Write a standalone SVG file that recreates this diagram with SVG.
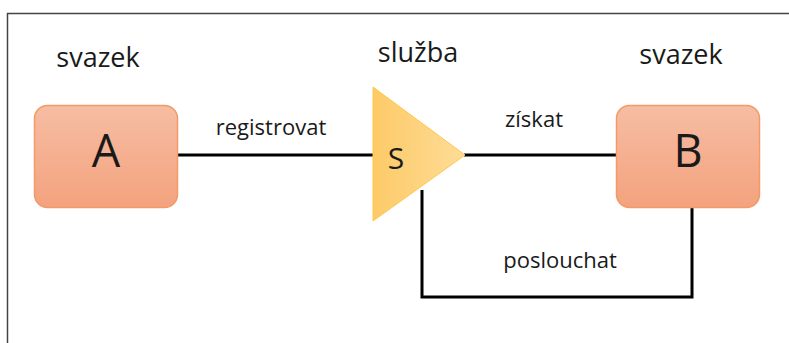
<svg xmlns="http://www.w3.org/2000/svg" width="789" height="343" viewBox="0 0 789 343">
<defs>
<linearGradient id="gBox" x1="0" y1="0" x2="0" y2="1">
<stop offset="0" stop-color="#F6BDA3"/>
<stop offset="1" stop-color="#F4A27E"/>
</linearGradient>
<linearGradient id="gTri" x1="0" y1="0" x2="1" y2="0">
<stop offset="0" stop-color="#FDCA67"/>
<stop offset="1" stop-color="#FEDC98"/>
</linearGradient>
<style>
.t{font-family:"Open Sans","Liberation Sans",sans-serif;fill:#1a1a1a}
.lbl{font-size:27px}
.edge{font-size:22px}
.box{fill:url(#gBox);stroke:#F29A68;stroke-width:1.5}
.conn{fill:none;stroke:#000;stroke-width:3}
</style>
</defs>
<rect width="789" height="343" fill="#fff"/>
<path d="M7.5 345 V13.5 H792" fill="none" stroke="#444" stroke-width="1.5"/>
<text class="t lbl" x="98" y="67" text-anchor="middle">svazek</text>
<text class="t lbl" x="418" y="62" text-anchor="middle">služba</text>
<text class="t lbl" x="681" y="64" text-anchor="middle">svazek</text>
<g id="connectors">
<line class="conn" x1="178" y1="155" x2="374" y2="155"/>
<line class="conn" x1="464" y1="155" x2="617" y2="155"/>
<polyline class="conn" points="422,190 422,297 692,297 692,208"/>
<text class="t edge" x="271" y="135" text-anchor="middle">registrovat</text>
<text class="t edge" x="534" y="127" text-anchor="middle">získat</text>
<text class="t edge" x="560" y="268" text-anchor="middle">poslouchat</text>
</g>
<g id="nodeA">
<rect class="box" x="34.5" y="105.5" width="143" height="102" rx="13"/>
<text class="t" x="106" y="167" font-size="45" text-anchor="middle">A</text>
</g>
<g id="nodeS">
<polygon points="373,87 465,155 373,221" fill="url(#gTri)" stroke="#FFC84E" stroke-width="1"/>
<text class="t" x="396" y="169" font-size="30" text-anchor="middle">S</text>
</g>
<g id="nodeB">
<rect class="box" x="616.5" y="105.5" width="143" height="102" rx="13"/>
<text class="t" x="688" y="167" font-size="45" text-anchor="middle">B</text>
</g>
</svg>
